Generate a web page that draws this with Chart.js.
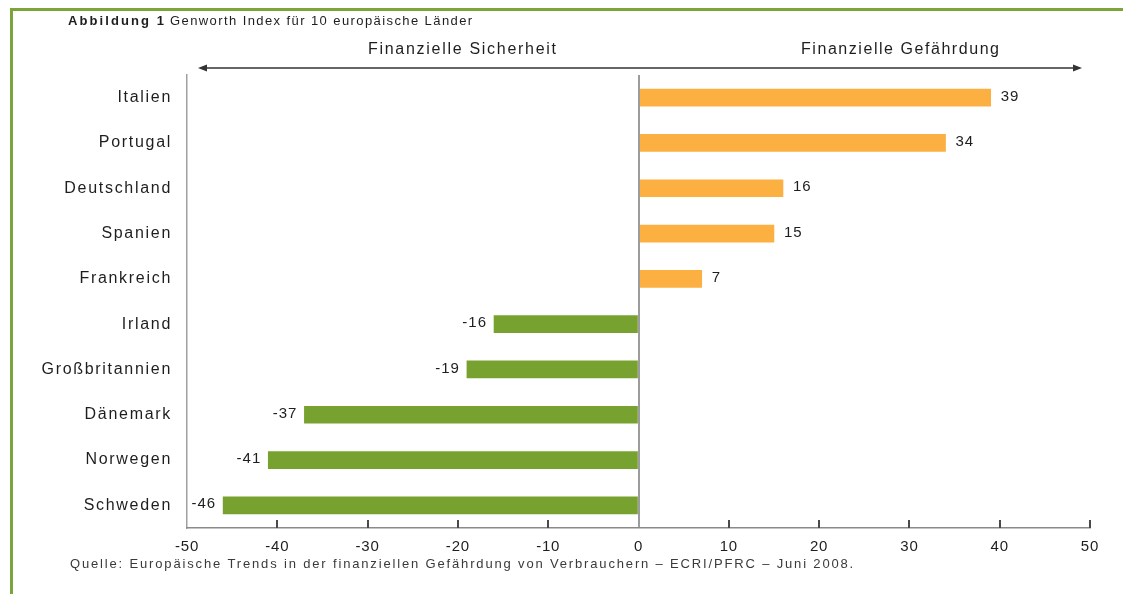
<!DOCTYPE html>
<html>
<head>
<meta charset="utf-8">
<script src="https://cdn.jsdelivr.net/npm/chart.js@4.4.0/dist/chart.umd.min.js"></script>
<style>
  html, body { margin: 0; padding: 0; background: #fff; }
  #wrap { position: relative; width: 1123px; height: 594px; }
</style>
</head>
<body>
<div id="wrap"><canvas id="genworthChart"></canvas></div>
<script>
  "use strict";

  // Data
  const countries = [
    "Italien", "Portugal", "Deutschland", "Spanien", "Frankreich",
    "Irland", "Großbritannien", "Dänemark", "Norwegen", "Schweden",
  ];
  const indexValues = [39, 34, 16, 15, 7, -16, -19, -37, -41, -46];
  const xTickValues = [-50, -40, -30, -20, -10, 0, 10, 20, 30, 40, 50];

  const titleBold = "Abbildung 1";
  const titleText = "Genworth Index für 10 europäische Länder";
  const leftHeading = "Finanzielle Sicherheit";
  const rightHeading = "Finanzielle Gefährdung";
  const sourceText =
    "Quelle: Europäische Trends in der finanziellen Gefährdung von Verbrauchern – ECRI/PFRC – Juni 2008.";

  const FONT = "'Liberation Sans', Arial, sans-serif";
  const ORANGE = "#fbb041";
  const GREEN = "#78a22f";
  const FRAME = "#7ba53a";
  const TEXT = "#1e1e1e";

  // draw text stretched to a given width by adjusting letter spacing
  function fitText(ctx, text, x, y, width, align) {
    ctx.letterSpacing = "0px";
    const w = ctx.measureText(text).width;
    const ls = (width - w) / Math.max(1, text.length - 1);
    ctx.letterSpacing = ls.toFixed(2) + "px";
    ctx.textAlign = "left";
    let startX = x;
    if (align === "center") startX = x - width / 2;
    if (align === "right") startX = x - width;
    ctx.fillText(text, startX, y);
    ctx.letterSpacing = "0px";
  }

  const decorPlugin = {
    id: "decor",
    beforeDraw(chart) {
      // wide spacing for the category labels, like the source figure
      chart.ctx.letterSpacing = "1.7px";
    },
    afterDatasetsDraw(chart) {
      // x tick labels (ticks.z = 1) are drawn after the bars, tighter
      chart.ctx.letterSpacing = "0.8px";
    },
    afterDraw(chart) {
      const ctx = chart.ctx;
      const xScale = chart.scales.x;
      const area = chart.chartArea;
      ctx.save();
      ctx.letterSpacing = "0px";

      // green frame
      ctx.fillStyle = FRAME;
      ctx.fillRect(11, 8, 1112, 3);
      ctx.fillRect(10, 8, 3, 586);

      // title
      ctx.fillStyle = TEXT;
      ctx.textBaseline = "middle";
      ctx.font = "bold 13px " + FONT;
      fitText(ctx, titleBold, 68, 21, 96, "left");
      ctx.font = "13px " + FONT;
      fitText(ctx, titleText, 170, 21, 302, "left");

      // headings over the arrow
      ctx.font = "16px " + FONT;
      fitText(ctx, leftHeading, 462, 50, 188, "center");
      fitText(ctx, rightHeading, 900, 50, 198, "center");

      // double arrow
      const ay = 68;
      const ax1 = 198, ax2 = 1082;
      ctx.strokeStyle = "#333";
      ctx.lineWidth = 1.5;
      ctx.beginPath();
      ctx.moveTo(ax1 + 6, ay);
      ctx.lineTo(ax2 - 6, ay);
      ctx.stroke();
      ctx.fillStyle = "#333";
      ctx.beginPath();
      ctx.moveTo(ax1, ay);
      ctx.lineTo(ax1 + 9, ay - 3.5);
      ctx.lineTo(ax1 + 9, ay + 3.5);
      ctx.closePath();
      ctx.fill();
      ctx.beginPath();
      ctx.moveTo(ax2, ay);
      ctx.lineTo(ax2 - 9, ay - 3.5);
      ctx.lineTo(ax2 - 9, ay + 3.5);
      ctx.closePath();
      ctx.fill();

      // short upward tick marks on the x axis
      ctx.strokeStyle = "#4a4a4a";
      ctx.lineWidth = 2;
      xTickValues.forEach(function (v) {
        if (v === xScale.min || v === 0) return;
        const px = Math.round(xScale.getPixelForValue(v));
        ctx.beginPath();
        ctx.moveTo(px, area.bottom);
        ctx.lineTo(px, area.bottom - 8);
        ctx.stroke();
      });

      // value labels next to bar ends
      ctx.font = "15px " + FONT;
      ctx.fillStyle = TEXT;
      ctx.letterSpacing = "1px";
      const meta = chart.getDatasetMeta(0);
      meta.data.forEach(function (bar, i) {
        const v = indexValues[i];
        if (v >= 0) {
          ctx.textAlign = "left";
          ctx.fillText(String(v), bar.x + 10, bar.y - 1);
        } else {
          ctx.textAlign = "right";
          ctx.fillText(String(v), bar.x - 7, bar.y - 1);
        }
      });
      ctx.letterSpacing = "0px";

      // source
      ctx.font = "13px " + FONT;
      ctx.fillStyle = "#3a3a3a";
      fitText(ctx, sourceText, 70, 564, 783, "left");

      ctx.restore();
    },
  };

  const ctx = document.getElementById("genworthChart").getContext("2d");

  new Chart(ctx, {
    type: "bar",
    data: {
      labels: countries,
      datasets: [
        {
          label: "Genworth Index",
          data: indexValues,
          backgroundColor: indexValues.map(function (v) {
            return v >= 0 ? ORANGE : GREEN;
          }),
          borderWidth: 0,
          barThickness: 17,
        },
      ],
    },
    options: {
      indexAxis: "y",
      responsive: true,
      maintainAspectRatio: false,
      animation: false,
      layout: {
        padding: { top: 75, right: 33, bottom: 0, left: 0 },
      },
      plugins: {
        legend: { display: false },
        tooltip: { enabled: false },
      },
      scales: {
        x: {
          type: "linear",
          min: -50,
          max: 50,
          afterFit: function (scale) {
            scale.height = 66;
          },
          afterBuildTicks: function (scale) {
            scale.ticks = xTickValues.map(function (v) {
              return { value: v };
            });
          },
          grid: {
            z: 1,
            drawTicks: false,
            lineWidth: 2,
            color: function (c) {
              return c.tick && c.tick.value === 0 ? "#9c9c9c" : "rgba(0,0,0,0)";
            },
          },
          border: { color: "#8a8a8a", width: 1.5, z: 1 },
          ticks: {
            z: 1,
            padding: 10,
            color: TEXT,
            autoSkip: false,
            maxRotation: 0,
            font: { family: FONT, size: 15 },
          },
        },
        y: {
          afterFit: function (scale) {
            scale.width = 187;
          },
          grid: {
            drawTicks: false,
            color: "rgba(0,0,0,0)",
          },
          border: { color: "#a0a0a0", width: 1.5 },
          ticks: {
            padding: 15,
            color: TEXT,
            font: { family: FONT, size: 16 },
          },
        },
      },
    },
    plugins: [decorPlugin],
  });
</script>
</body>
</html>
